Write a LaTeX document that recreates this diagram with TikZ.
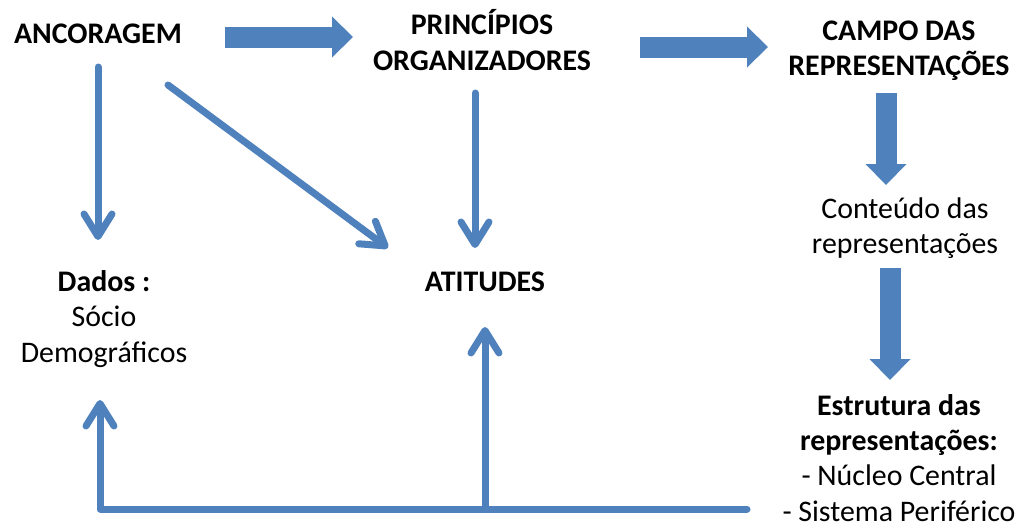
\documentclass[tikz,border=0pt]{standalone}
\usepackage{fontspec}
\setmainfont{Carlito}
\usepackage{xcolor}
\usetikzlibrary{arrows.meta}

\definecolor{arrowblue}{HTML}{4F81BD}

\begin{document}
\begin{tikzpicture}[
  fat/.style={line width=0.42cm, arrowblue,
    -{Triangle[length=0.42cm, width=0.82cm, line width=0pt]}},
  link/.style={line width=0.14cm, arrowblue, line cap=round, line join=round,
    -{Straight Barb[length=0.45cm, width=0.56cm, round]}},
  txt/.style={font=\fontsize{17}{20}\selectfont, align=center, inner sep=0pt},
  hdr/.style={txt, font=\fontsize{17}{20}\selectfont\bfseries},
]
  \useasboundingbox (0,0) rectangle (20.6,10.58);

  % Top row
  \node[hdr] (ancor) at (1.96,9.90) {ANCORAGEM};
  \node[hdr] (princ) at (9.64,9.78) {PRINCÍPIOS\\ORGANIZADORES};
  \node[hdr] (campo) at (17.98,9.56) {CAMPO DAS\\REPRESENTAÇÕES};

  % Middle and bottom
  \node[txt] (conteudo) at (18.10,6.02) {Conteúdo das\\representações};
  \node[txt] (dados) at (2.08,4.20) {\textbf{Dados :}\\Sócio\\Demográficos};
  \node[hdr] (atit) at (9.70,4.94) {ATITUDES};
  \node[txt] (estrut) at (17.98,1.42)
    {\textbf{Estrutura das}\\\textbf{representações:}\\- Núcleo Central\\- Sistema Periférico};

  % Block arrows
  \draw[fat, shorten <=2.54cm, shorten >=2.58cm]
    ([yshift=-0.6mm]ancor.center) -- ([yshift=-0.6mm]ancor.center -| princ.center);
  \draw[fat, shorten <=3.16cm, shorten >=2.62cm]
    ([yshift=-1.4mm]princ.center) -- ([yshift=-1.4mm]princ.center -| campo.center);
  \draw[fat, shorten <=0.84cm, shorten >=0.86cm]
    ([xshift=-2.6mm]campo.center) -- ([xshift=-2.6mm]campo.center |- conteudo.center);
  \draw[fat, shorten <=0.80cm, shorten >=1.56cm]
    ([xshift=-3mm]conteudo.center) -- ([xshift=-3mm]conteudo.center |- estrut.center);

  % Thin arrows
  \draw[link, shorten <=0.66cm, shorten >=1.58cm]
    (ancor.center) -- (ancor.center |- dados.center);
  \draw[link] ([shift={(1.40,-1.02)}]ancor.center) -- ([shift={(-1.94,0.68)}]atit.center);
  \draw[link, shorten <=1.06cm, shorten >=0.68cm]
    ([xshift=-1.4mm]princ.center) -- ([xshift=-1.4mm]princ.center |- atit.center);

  % Return line along the bottom
  \coordinate (fb) at (14.94,0.40);
  \draw[link, shorten >=1.62cm] (fb) -| ([xshift=-0.8mm]dados.center);
  \draw[link, shorten >=0.90cm] (fb -| atit.center) -- (atit.center);
\end{tikzpicture}
\end{document}
